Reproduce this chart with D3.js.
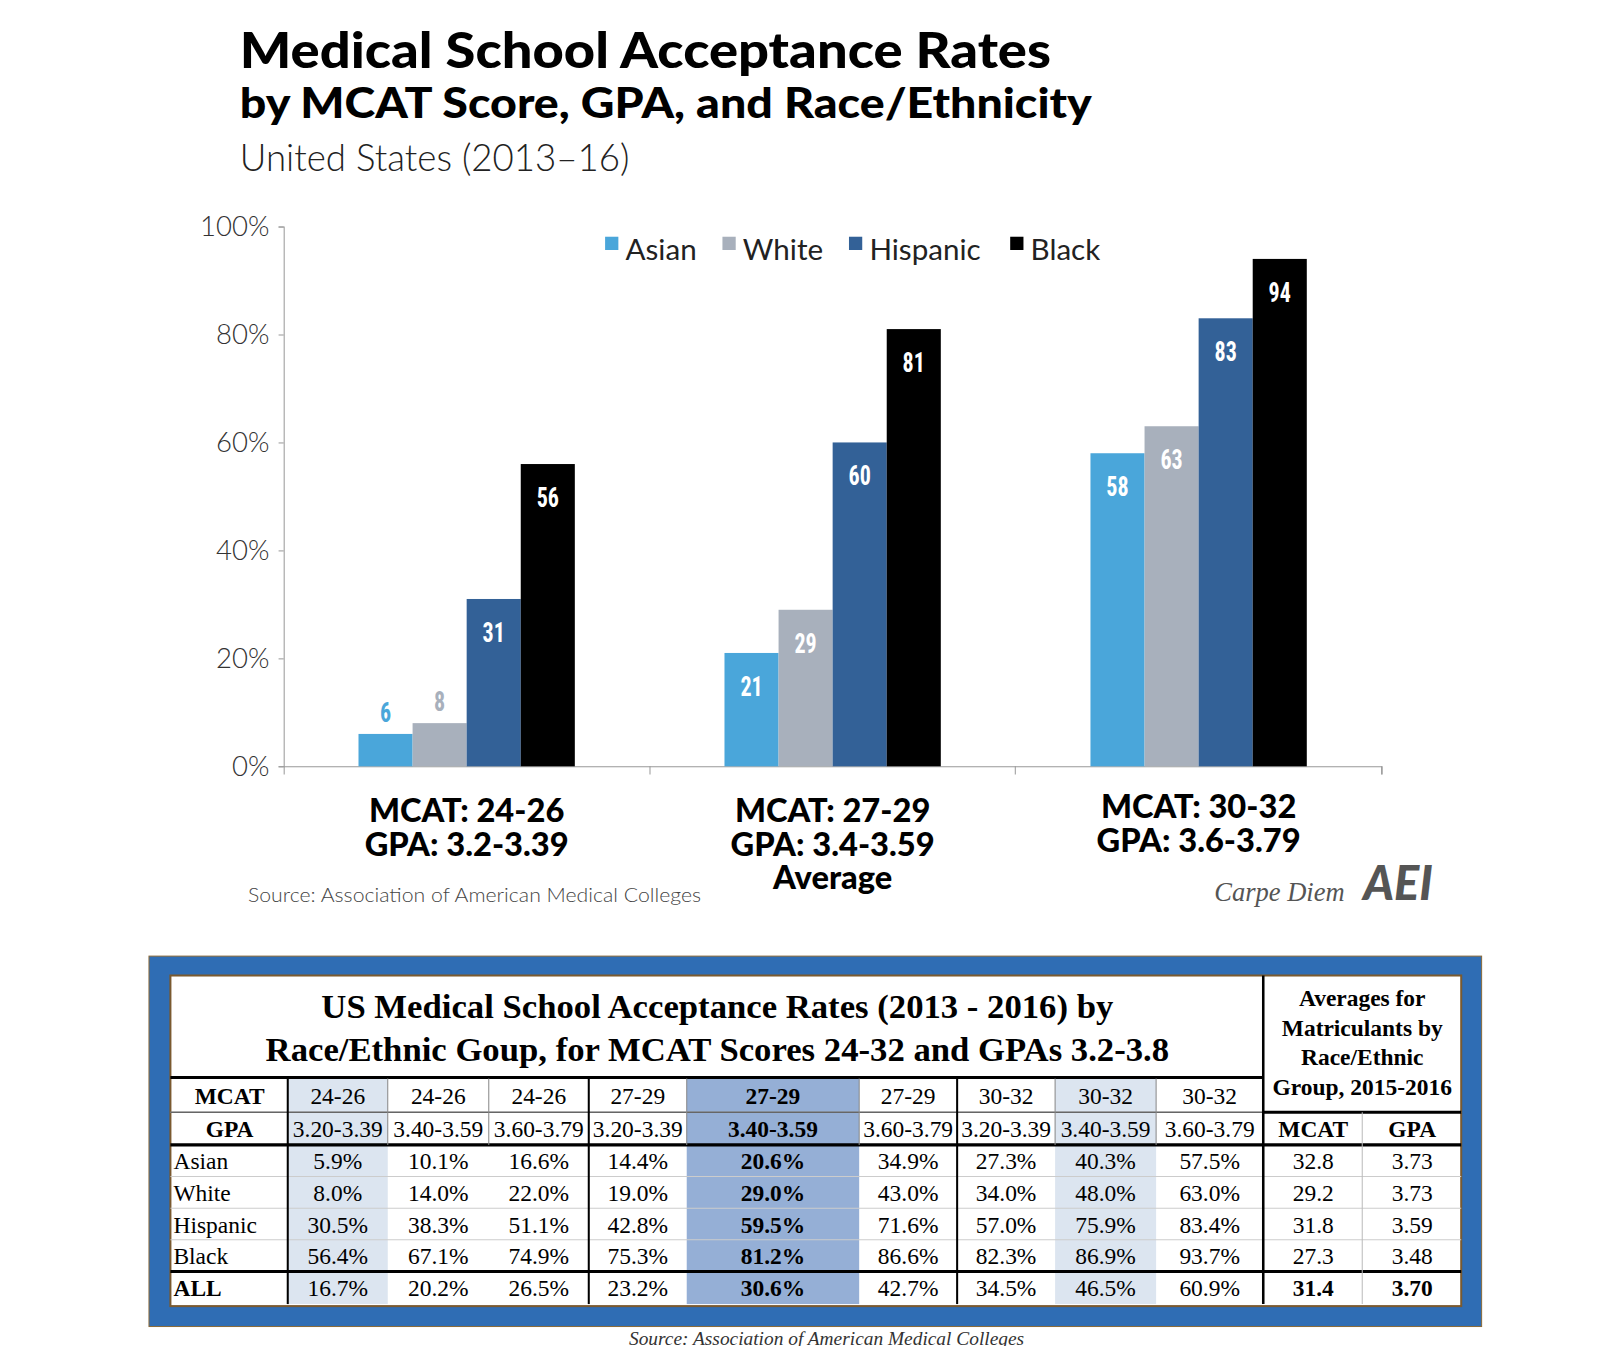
<!DOCTYPE html>
<html><head><meta charset="utf-8">
<script src="https://cdn.jsdelivr.net/npm/d3@7"></script>
<style>
body{margin:0;background:#fff;}
svg text{font-family:Lato,"Open Sans",sans-serif;}
.serif{font-family:"Liberation Serif","DejaVu Serif",serif !important;}
</style></head>
<body><svg id="c" width="1600" height="1346"></svg>
<script>
const groups = ["g1", "g2", "g3"];
const groupLines = [["MCAT: 24-26", "GPA: 3.2-3.39"], ["MCAT: 27-29", "GPA: 3.4-3.59", "Average"], ["MCAT: 30-32", "GPA: 3.6-3.79"]];
const races = ["Asian", "White", "Hispanic", "Black"];
const colors = ["#4aa6da", "#a8b0bc", "#336197", "#000000"];
const asianVals = [6, 21, 58];
const whiteVals = [8, 29, 63];
const hispanicVals = [31, 60, 83];
const blackVals = [56, 81, 94];
const yTicks = [0, 20, 40, 60, 80, 100];

const tableMcat = ["24-26", "24-26", "24-26", "27-29", "27-29", "27-29", "30-32", "30-32", "30-32"];
const tableGpa = ["3.20-3.39", "3.40-3.59", "3.60-3.79", "3.20-3.39", "3.40-3.59", "3.60-3.79", "3.20-3.39", "3.40-3.59", "3.60-3.79"];
const rowLabels = ["Asian", "White", "Hispanic", "Black", "ALL"];
const rowAsian = ["5.9%", "10.1%", "16.6%", "14.4%", "20.6%", "34.9%", "27.3%", "40.3%", "57.5%"];
const rowWhite = ["8.0%", "14.0%", "22.0%", "19.0%", "29.0%", "43.0%", "34.0%", "48.0%", "63.0%"];
const rowHispanic = ["30.5%", "38.3%", "51.1%", "42.8%", "59.5%", "71.6%", "57.0%", "75.9%", "83.4%"];
const rowBlack = ["56.4%", "67.1%", "74.9%", "75.3%", "81.2%", "86.6%", "82.3%", "86.9%", "93.7%"];
const rowAll = ["16.7%", "20.2%", "26.5%", "23.2%", "30.6%", "42.7%", "34.5%", "46.5%", "60.9%"];
const avgMcat = ["32.8", "29.2", "31.8", "27.3", "31.4"];
const avgGpa = ["3.73", "3.73", "3.59", "3.48", "3.70"];

const svg = d3.select("#c").append("g").attr("transform", "scale(1.0204)");

// titles
svg.append("text").attr("x", 235).attr("y", 67).attr("font-size", 48).attr("font-weight", 900)
  .attr("textLength", 795).attr("lengthAdjust", "spacingAndGlyphs").text("Medical School Acceptance Rates");
svg.append("text").attr("x", 235).attr("y", 116).attr("font-size", 41).attr("font-weight", 900)
  .attr("textLength", 835).attr("lengthAdjust", "spacingAndGlyphs").text("by MCAT Score, GPA, and Race/Ethnicity");
svg.append("text").attr("x", 235).attr("y", 168).attr("font-size", 36).attr("font-weight", 300).attr("fill", "#222")
  .attr("textLength", 382).attr("lengthAdjust", "spacingAndGlyphs").text("United States (2013\u201316)");

// scales
const x0 = d3.scaleBand().domain(groups).range([278, 1354]).paddingInner(0).paddingOuter(0);
const x1 = d3.scaleBand().domain(races).range([(x0.bandwidth() - 212) / 2, (x0.bandwidth() + 212) / 2]);
const y = d3.scaleLinear().domain([0, 100]).range([751, 222]);

const yAxis = svg.append("g").attr("transform", "translate(278,0)")
  .call(d3.axisLeft(y).tickValues(yTicks).tickFormat(d => d + "%").tickSize(5));
yAxis.select(".domain").attr("stroke", "#999");
yAxis.selectAll(".tick line").attr("stroke", "#999");
yAxis.selectAll(".tick text").attr("font-size", 27).attr("fill", "#333").attr("x", -14).attr("font-weight", 300)
  .style("font-family", "Lato,sans-serif");

const xAxis = svg.append("g").attr("transform", "translate(0,751)")
  .call(d3.axisBottom(x0).tickSize(8).tickFormat(""));
xAxis.select(".domain").attr("stroke", "#999");
xAxis.selectAll(".tick").remove();
xAxis.selectAll(".bnd").data([637, 995, 1354]).join("line").attr("class", "bnd")
  .attr("x1", d => d).attr("x2", d => d).attr("y1", 0).attr("y2", 8).attr("stroke", "#999");

const series = [asianVals, whiteVals, hispanicVals, blackVals];
const bars = [];
groups.forEach((g, gi) => races.forEach((r, ri) => bars.push({ g, r, ri, v: series[ri][gi] })));

svg.append("g").selectAll("rect").data(bars).join("rect")
  .attr("x", d => x0(d.g) + x1(d.r)).attr("width", x1.bandwidth())
  .attr("y", d => y(d.v)).attr("height", d => y(0) - y(d.v))
  .attr("fill", d => colors[d.ri]);

svg.append("g").selectAll("text").data(bars).join("text")
  .attr("x", d => x0(d.g) + x1(d.r) + x1.bandwidth() / 2)
  .attr("y", d => d.v < 15 ? y(d.v) - 12 : y(d.v) + 42)
  .attr("text-anchor", "middle").attr("font-size", 27).attr("font-weight", 700)
  .style("font-family", "'Roboto Condensed','DejaVu Sans Condensed',sans-serif")
  .attr("transform", d => `translate(${x0(d.g) + x1(d.r) + x1.bandwidth() / 2},0) scale(0.8,1) translate(${-(x0(d.g) + x1(d.r) + x1.bandwidth() / 2)},0)`)
  .attr("fill", d => d.v < 15 ? colors[d.ri] : "#fff")
  .text(d => d.v);

// legend
const legX = [593, 708, 832, 990];
const leg = svg.append("g").selectAll("g").data(races).join("g")
  .attr("transform", (d, i) => `translate(${legX[i]},232)`);
leg.append("rect").attr("width", 13).attr("height", 13).attr("fill", (d, i) => colors[i]);
leg.append("text").attr("x", 20).attr("y", 23).attr("font-size", 29).attr("fill", "#222").text(d => d);

// group labels
groups.forEach((g, gi) => {
  const cx = x0(g) + x0.bandwidth() / 2;
  const top = gi === 2 ? 802 : 806;
  svg.append("g").selectAll("text").data(groupLines[gi]).join("text")
    .attr("x", cx).attr("y", (d, i) => top + i * 32.5).attr("text-anchor", "middle")
    .attr("font-size", 32).attr("font-weight", 900).text(d => d);
});

svg.append("text").attr("x", 243).attr("y", 884).attr("font-size", 20).attr("fill", "#444").attr("font-weight", 300)
  .attr("textLength", 444).attr("lengthAdjust", "spacingAndGlyphs")
  .text("Source: Association of American Medical Colleges");
svg.append("text").attr("x", 1190).attr("y", 883).attr("font-size", 26).attr("font-style", "italic").attr("fill", "#555")
  .attr("class", "serif").text("Carpe Diem");
svg.append("text").attr("x", 1336).attr("y", 882).attr("font-size", 46).attr("font-style", "italic").attr("font-weight", 900)
  .attr("fill", "#555").text("AEI");

// table
const T = svg.append("g");
T.append("rect").attr("x", 146).attr("y", 937).attr("width", 1306).attr("height", 363).attr("fill", "#2f6db4").attr("stroke", "#8a6a3a");
T.append("rect").attr("x", 167).attr("y", 956).attr("width", 1265).attr("height", 324).attr("fill", "#fff").attr("stroke", "#7a5a30").attr("stroke-width", 2);

const colX = [282, 380, 479, 577, 673, 842, 938, 1034, 1133, 1238];
const rowY = [1057, 1090, 1122, 1153, 1184, 1215, 1246, 1278];
const shade = { 0: "#dce5f0", 4: "#95afd6", 7: "#dce5f0" };
Object.keys(shade).forEach(k => {
  T.append("rect").attr("x", colX[+k]).attr("y", 1057).attr("width", colX[+k + 1] - colX[+k]).attr("height", 1278 - 1057).attr("fill", shade[k]);
});

// grid lines
T.selectAll(".hl").data(rowY.slice(1, -1)).join("line")
  .attr("x1", 167).attr("x2", 1432).attr("y1", d => d).attr("y2", d => d)
  .attr("stroke", d => (d === 1122 || d === 1246) ? "#000" : "#ccc")
  .attr("stroke-width", d => (d === 1122 || d === 1246) ? 3 : 1);
T.append("line").attr("x1", 167).attr("x2", 1238).attr("y1", 1056).attr("y2", 1056).attr("stroke", "#000").attr("stroke-width", 3);
T.append("line").attr("x1", 1238).attr("x2", 1432).attr("y1", 1090).attr("y2", 1090).attr("stroke", "#000").attr("stroke-width", 3);
T.append("line").attr("x1", 167).attr("x2", 1238).attr("y1", 1090).attr("y2", 1090).attr("stroke", "#666").attr("stroke-width", 1.5);
T.selectAll(".vl").data([282, 577, 938, 1238]).join("line")
  .attr("x1", d => d).attr("x2", d => d).attr("y1", d => d === 1238 ? 956 : 1057).attr("y2", 1278)
  .attr("stroke", "#000").attr("stroke-width", d => d === 1238 ? 2.5 : 2);
T.selectAll(".vl2").data([380, 479, 673, 842, 1034, 1133]).join("line")
  .attr("x1", d => d).attr("x2", d => d).attr("y1", 1057).attr("y2", 1122).attr("stroke", "#888");
T.append("line").attr("x1", 1335).attr("x2", 1335).attr("y1", 1090).attr("y2", 1278).attr("stroke", "#bbb");

const cell = (x, yy, t, o = {}) => T.append("text").attr("class", "serif").attr("x", x).attr("y", yy)
  .attr("text-anchor", o.anchor || "middle").attr("font-size", o.size || 23).attr("font-weight", o.bold ? 700 : 400).text(t);

cell(703, 998, "US Medical School Acceptance Rates (2013 - 2016) by", { size: 34, bold: true });
cell(703, 1040, "Race/Ethnic Goup, for MCAT Scores 24-32 and GPAs 3.2-3.8", { size: 34, bold: true });
["Averages for", "Matriculants by", "Race/Ethnic", "Group, 2015-2016"].forEach((t, i) => cell(1335, 986 + i * 29, t, { bold: true }));

const mid = i => (colX[i] + colX[i + 1]) / 2;
cell(225, 1082, "MCAT", { bold: true });
cell(225, 1114, "GPA", { bold: true });
tableMcat.forEach((t, i) => cell(mid(i), 1082, t, { bold: i === 4 }));
tableGpa.forEach((t, i) => cell(mid(i), 1114, t, { bold: i === 4 }));
cell(1287, 1114, "MCAT", { bold: true });
cell(1384, 1114, "GPA", { bold: true });

const rows = [rowAsian, rowWhite, rowHispanic, rowBlack, rowAll];
rows.forEach((row, r) => {
  const yy = rowY[r + 2] + 24;
  cell(170, yy, rowLabels[r], { anchor: "start", bold: r === 4 });
  row.forEach((t, i) => cell(mid(i), yy, t, { bold: i === 4 }));
  cell(1287, yy, avgMcat[r], { bold: r === 4 });
  cell(1384, yy, avgGpa[r], { bold: r === 4 });
});

svg.append("text").attr("class", "serif").attr("x", 810).attr("y", 1318).attr("text-anchor", "middle")
  .attr("font-size", 19).attr("font-style", "italic").attr("fill", "#333").text("Source: Association of American Medical Colleges");
</script></body></html>
